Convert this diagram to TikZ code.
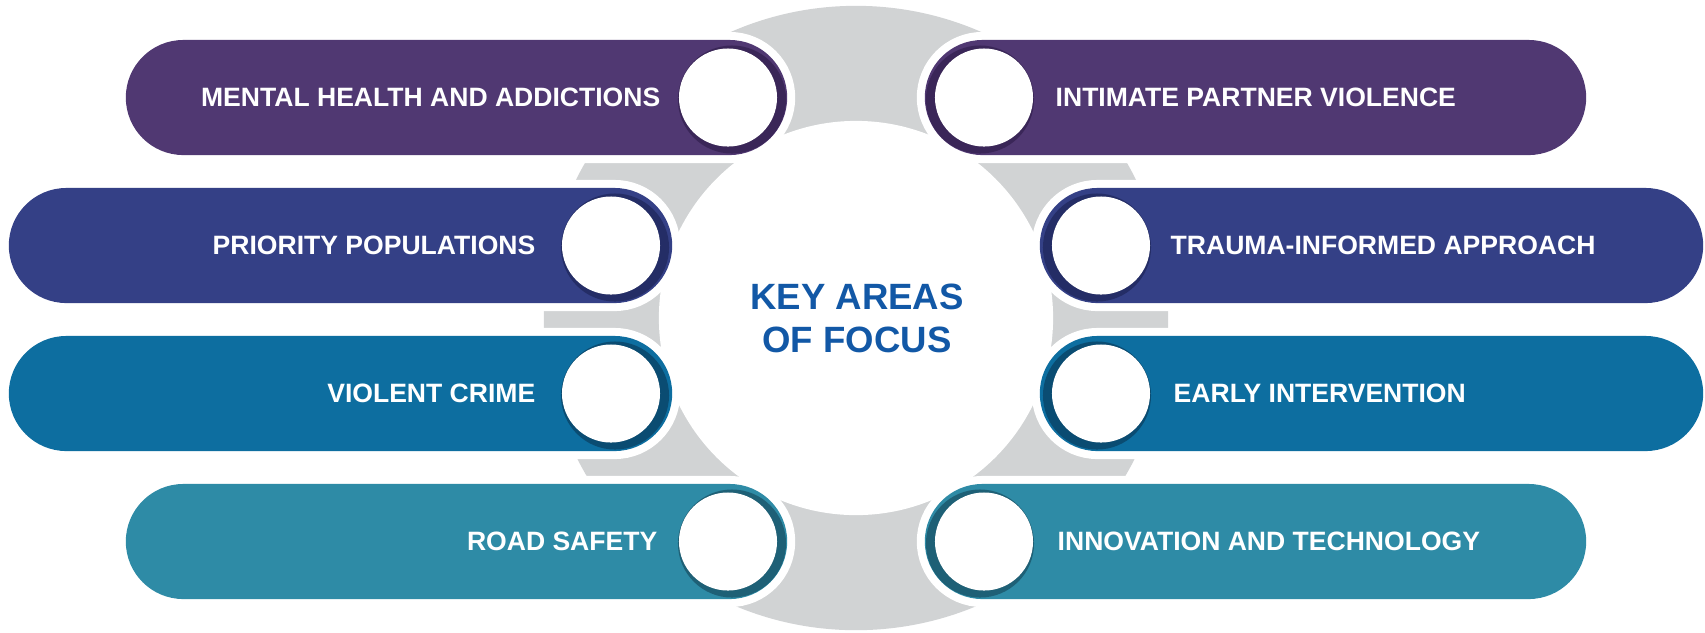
\documentclass[tikz,border=0pt]{standalone}
\usepackage{fontspec}
\setmainfont{Liberation Sans}
\definecolor{ringgray}{RGB}{209,211,212}
\definecolor{cA}{RGB}{80,56,114}
\definecolor{cB}{RGB}{52,64,134}
\definecolor{cC}{RGB}{13,110,160}
\definecolor{cD}{RGB}{46,139,166}
\definecolor{dA}{RGB}{58,38,88}
\definecolor{dB}{RGB}{36,45,102}
\definecolor{dC}{RGB}{10,76,114}
\definecolor{dD}{RGB}{30,96,118}
\definecolor{keyblue}{RGB}{18,88,166}
\begin{document}
\begin{tikzpicture}[x=0.01cm,y=-0.01cm,
  bar/.style={fill=#1, rounded corners=5.75mm, minimum height=1.15cm, inner sep=0, outer sep=0,
    preaction={draw=white, line width=0.16cm}},
  ringdisc/.style={circle, fill=#1, minimum size=1.08cm, inner sep=0},
  whitedisc/.style={circle, fill=white, minimum size=0.98cm, inner sep=0,
    preaction={fill=black, opacity=0.12, circle, minimum size=1.0cm}},
  lbl/.style={text=white, font=\bfseries\fontsize{7.55}{9}\selectfont, inner sep=0},
]
\useasboundingbox (0,0) rectangle (1705,632);
% gray ring
\node[circle, fill=ringgray, minimum size=6.24cm, inner sep=0] (ring) at (856,318) {};
\node[circle, fill=white, minimum size=3.94cm, inner sep=0] (hub) at (856,318) {};
% left bars
\node[bar=cA, minimum width=6.61cm] (bl1) at (456.5,97.5) {};
\node[bar=cB, minimum width=6.63cm] (bl2) at (340.5,245.5) {};
\node[bar=cC, minimum width=6.63cm] (bl3) at (340.5,393.5) {};
\node[bar=cD, minimum width=6.61cm] (bl4) at (456.5,541.5) {};
% right bars
\node[bar=cA, minimum width=6.61cm] (br1) at (1255.5,97.5) {};
\node[bar=cB, minimum width=6.63cm] (br2) at (1371.5,245.5) {};
\node[bar=cC, minimum width=6.63cm] (br3) at (1371.5,393.5) {};
\node[bar=cD, minimum width=6.61cm] (br4) at (1255.5,541.5) {};
% rings and discs left
\node[ringdisc=dA] (rl1) at (732,99.5) {};
\node[whitedisc] (cl1) at (728,97.5) {};
\node[ringdisc=dB] (rl2) at (615,247.5) {};
\node[whitedisc] (cl2) at (611,245.5) {};
\node[ringdisc=dC] (rl3) at (615,395.5) {};
\node[whitedisc] (cl3) at (611,393.5) {};
\node[ringdisc=dD] (rl4) at (732,543.5) {};
\node[whitedisc] (cl4) at (728,541.5) {};
% rings and discs right
\node[ringdisc=dA] (rr1) at (980,99.5) {};
\node[whitedisc] (cr1) at (984,97.5) {};
\node[ringdisc=dB] (rr2) at (1097,247.5) {};
\node[whitedisc] (cr2) at (1101,245.5) {};
\node[ringdisc=dC] (rr3) at (1097,395.5) {};
\node[whitedisc] (cr3) at (1101,393.5) {};
\node[ringdisc=dD] (rr4) at (980,543.5) {};
\node[whitedisc] (cr4) at (984,541.5) {};
% labels
\node[lbl, anchor=east] (tl1) at (661,97.5) {MENTAL HEALTH AND ADDICTIONS};
\node[lbl, anchor=east] (tl2) at (536,245.5) {PRIORITY POPULATIONS};
\node[lbl, anchor=east] (tl3) at (536,393.5) {VIOLENT CRIME};
\node[lbl, anchor=east] (tl4) at (658,541.5) {ROAD SAFETY};
\node[lbl, anchor=west] (tr1) at (1055,97.5) {INTIMATE PARTNER VIOLENCE};
\node[lbl, anchor=west] (tr2) at (1170,245.5) {TRAUMA-INFORMED APPROACH};
\node[lbl, anchor=west] (tr3) at (1173,393.5) {EARLY INTERVENTION};
\node[lbl, anchor=west] (tr4) at (1057,541.5) {INNOVATION AND TECHNOLOGY};
% center
\node[text=keyblue, font=\bfseries\fontsize{10.4}{12.2}\selectfont, align=center, inner sep=0] (key) at (857,318) {KEY AREAS\\OF FOCUS};
\end{tikzpicture}
\end{document}
